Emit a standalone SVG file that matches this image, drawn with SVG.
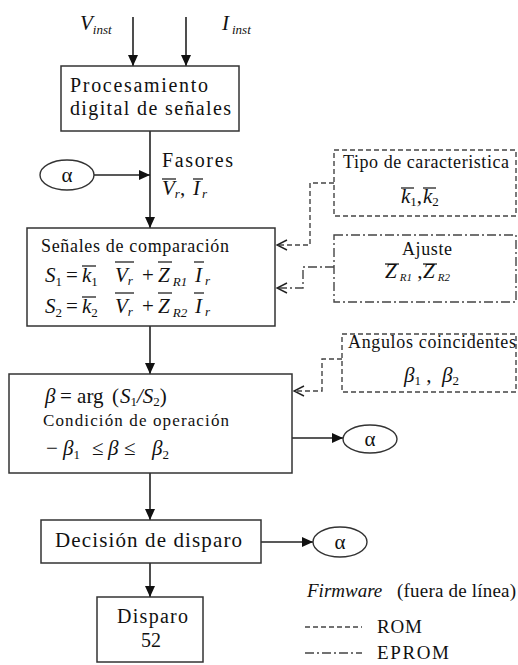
<svg xmlns="http://www.w3.org/2000/svg" width="518" height="665" viewBox="0 0 518 665">
<style>
text{font-family:"Liberation Serif","Times New Roman",serif;fill:#111}
.t{font-size:20px}
.s{font-size:18px}
.s17{font-size:17px}
.f19{font-size:19px}
.f20{font-size:20px}
.f21{font-size:21px}
.m{font-size:21px;font-style:italic}
.n{font-style:normal}
.it{font-style:italic}
.sub{font-size:13px;font-style:italic}
.sub11{font-size:11px;font-style:italic}
.subn{font-size:13px;font-style:normal}
.box{fill:#fff;stroke:#333;stroke-width:1.5}
.ln{fill:none;stroke:#222;stroke-width:1.6}
.bar{stroke:#111;stroke-width:1.2}
.dash{fill:none;stroke:#444;stroke-width:1.4;stroke-dasharray:5,3}
.dd{fill:none;stroke:#444;stroke-width:1.4;stroke-dasharray:9,3,2,3}
.ell{fill:#fff;stroke:#333;stroke-width:1.4}
</style>
<defs>
<marker id="ah" markerUnits="userSpaceOnUse" markerWidth="11" markerHeight="10" refX="11" refY="5" orient="auto">
<path d="M0,0 L11,5 L0,10 z" fill="#111"/>
</marker>
<marker id="oa" markerUnits="userSpaceOnUse" markerWidth="12" markerHeight="12" refX="11" refY="6" orient="auto">
<path d="M1,1 L11,6 L1,11" fill="none" stroke="#222" stroke-width="1.4"/>
</marker>
</defs>

<g id="connectors">
<line class="ln" x1="133" y1="17" x2="133" y2="66" marker-end="url(#ah)"/>
<line class="ln" x1="186" y1="17" x2="186" y2="66" marker-end="url(#ah)"/>
<line class="ln" x1="150" y1="131" x2="150" y2="228" marker-end="url(#ah)"/>
<line class="ln" x1="94" y1="175" x2="150" y2="175" marker-end="url(#ah)"/>
<line class="ln" x1="150" y1="326" x2="150" y2="374" marker-end="url(#ah)"/>
<line class="ln" x1="292" y1="438" x2="343" y2="438" marker-end="url(#ah)"/>
<line class="ln" x1="150" y1="473" x2="150" y2="520" marker-end="url(#ah)"/>
<line class="ln" x1="261" y1="542" x2="313" y2="542" marker-end="url(#ah)"/>
<line class="ln" x1="150" y1="563" x2="150" y2="597" marker-end="url(#ah)"/>
<polyline class="dash" points="334,183 310,183 310,245 277,245" marker-end="url(#oa)"/>
<polyline class="dd" points="334,267 303,267 303,288 277,288" marker-end="url(#oa)"/>
<polyline class="dash" points="342,359 322,359 322,391 294,391" marker-end="url(#oa)"/>
</g>

<g id="inputs">
<text class="m" x="80" y="30">V<tspan class="sub" dy="4">inst</tspan></text>
<text class="m" x="222" y="30">I<tspan class="sub" dx="3" dy="4">inst</tspan></text>
</g>

<g id="proc">
<rect class="box" x="61" y="66" width="178" height="65"/>
<text class="t" x="70" y="92" textLength="138" lengthAdjust="spacing">Procesamiento</text>
<text class="t" x="70" y="115" textLength="161" lengthAdjust="spacing">digital de señales</text>
</g>

<g id="alpha1">
<ellipse class="ell" cx="67" cy="175" rx="27" ry="15"/>
<text class="f21" x="67" y="182" text-anchor="middle">α</text>
</g>

<g id="fasores">
<text class="t" x="162" y="167" textLength="71" lengthAdjust="spacing">Fasores</text>
<text class="m f19" x="162" y="195">V<tspan class="sub" dy="3">r</tspan><tspan class="n" dy="-3">,</tspan><tspan x="193">I</tspan><tspan class="sub" dx="2" dy="3">r</tspan></text>
<line class="bar" x1="162" y1="179" x2="176" y2="179"/>
<line class="bar" x1="193" y1="179" x2="203" y2="179"/>
</g>

<g id="comparacion">
<rect class="box" x="27" y="228" width="248" height="98"/>
<text class="s" x="41" y="252" textLength="188" lengthAdjust="spacing">Señales de comparación</text>
<text class="m" y="282"><tspan x="45">S</tspan><tspan class="subn" dy="4">1</tspan><tspan class="n" dy="-4" x="66">=</tspan><tspan x="82">k</tspan><tspan class="subn" dy="4">1</tspan><tspan dy="-4" x="115">V</tspan><tspan class="sub" dy="3">r</tspan><tspan class="n" dy="-3" x="142">+</tspan><tspan x="158">Z</tspan><tspan class="sub" dx="3" dy="4">R1</tspan><tspan dy="-4" x="195">I</tspan><tspan class="sub" dx="3" dy="3">r</tspan></text>
<line class="bar" x1="82" y1="266" x2="96" y2="266"/>
<line class="bar" x1="115" y1="262" x2="134" y2="262"/>
<line class="bar" x1="158" y1="262" x2="172" y2="262"/>
<line class="bar" x1="194" y1="262" x2="204" y2="262"/>
<text class="m" y="313"><tspan x="45">S</tspan><tspan class="subn" dy="4">2</tspan><tspan class="n" dy="-4" x="66">=</tspan><tspan x="82">k</tspan><tspan class="subn" dy="4">2</tspan><tspan dy="-4" x="115">V</tspan><tspan class="sub" dy="3">r</tspan><tspan class="n" dy="-3" x="142">+</tspan><tspan x="158">Z</tspan><tspan class="sub" dx="3" dy="4">R2</tspan><tspan dy="-4" x="195">I</tspan><tspan class="sub" dx="3" dy="3">r</tspan></text>
<line class="bar" x1="82" y1="297" x2="96" y2="297"/>
<line class="bar" x1="115" y1="293" x2="134" y2="293"/>
<line class="bar" x1="158" y1="293" x2="172" y2="293"/>
<line class="bar" x1="194" y1="293" x2="204" y2="293"/>
</g>

<g id="tipo">
<rect class="dash" x="334" y="150" width="182" height="66"/>
<text class="s" x="343" y="168" textLength="166" lengthAdjust="spacing">Tipo de caracteristica</text>
<text class="m" y="203"><tspan x="401">k</tspan><tspan class="subn" dy="3">1</tspan><tspan class="n" dy="-3">,</tspan><tspan x="423">k</tspan><tspan class="subn" dy="3">2</tspan></text>
<line class="bar" x1="401" y1="188" x2="414" y2="188"/>
<line class="bar" x1="423" y1="188" x2="436" y2="188"/>
</g>

<g id="ajuste">
<rect class="dd" x="334" y="235" width="182" height="67"/>
<text class="s" x="427" y="255" text-anchor="middle" textLength="50" lengthAdjust="spacing">Ajuste</text>
<text class="m f20" y="278"><tspan x="385">Z</tspan><tspan class="sub11" dx="3" dy="3">R1</tspan><tspan class="n" dy="-3"> ,</tspan><tspan x="423">Z</tspan><tspan class="sub11" dx="3" dy="3">R2</tspan></text>
<line class="bar" x1="385" y1="264" x2="399" y2="264"/>
<line class="bar" x1="423" y1="264" x2="437" y2="264"/>
</g>

<g id="beta">
<rect class="box" x="9" y="374" width="283" height="99"/>
<text class="m" y="403"><tspan x="45">β</tspan><tspan class="n" x="60">= arg</tspan><tspan class="n" x="112">(</tspan><tspan x="120">S</tspan><tspan class="subn" dy="3">1</tspan><tspan dy="-3">/</tspan><tspan>S</tspan><tspan class="subn" dy="3">2</tspan><tspan class="n" dy="-3">)</tspan></text>
<text class="s17" x="43" y="426" textLength="186" lengthAdjust="spacing">Condición de operación</text>
<text class="m" y="455"><tspan class="n" x="46">−</tspan><tspan x="63">β</tspan><tspan class="subn" dy="4">1</tspan><tspan class="n" dy="-4" x="92">≤</tspan><tspan x="108">β</tspan><tspan class="n" x="124">≤</tspan><tspan x="152">β</tspan><tspan class="subn" dy="4">2</tspan></text>
</g>

<g id="angulos">
<rect class="dash" x="342" y="334" width="174" height="58"/>
<text class="s" x="348" y="348" textLength="168" lengthAdjust="spacing">Angulos coincidentes</text>
<text class="m" y="382"><tspan x="404">β</tspan><tspan class="subn" dy="3">1</tspan><tspan class="n" dy="-3"> ,</tspan><tspan x="442">β</tspan><tspan class="subn" dy="3">2</tspan></text>
</g>

<g id="alpha2">
<ellipse class="ell" cx="370" cy="439" rx="27" ry="14"/>
<text class="f21" x="370" y="446" text-anchor="middle">α</text>
</g>

<g id="decision">
<rect class="box" x="41" y="520" width="220" height="43"/>
<text class="f21" x="55" y="547" textLength="187" lengthAdjust="spacing">Decisión de disparo</text>
</g>

<g id="alpha3">
<ellipse class="ell" cx="340" cy="542" rx="27" ry="15"/>
<text class="f21" x="340" y="549" text-anchor="middle">α</text>
</g>

<g id="disparo">
<rect class="box" x="97" y="597" width="106" height="65"/>
<text class="f20" x="117" y="623" textLength="71" lengthAdjust="spacing">Disparo</text>
<text class="f20" x="151" y="647" text-anchor="middle">52</text>
</g>

<g id="legend">
<text class="f19 it" x="307" y="597">Firmware</text>
<text class="f19" x="397" y="597" textLength="119" lengthAdjust="spacing">(fuera de línea)</text>
<line class="dash" x1="305" y1="627" x2="362" y2="627"/>
<text class="f19" x="377" y="633" textLength="45" lengthAdjust="spacing">ROM</text>
<line class="dd" x1="305" y1="653" x2="362" y2="653"/>
<text class="f19" x="377" y="659" textLength="72" lengthAdjust="spacing">EPROM</text>
</g>
</svg>
